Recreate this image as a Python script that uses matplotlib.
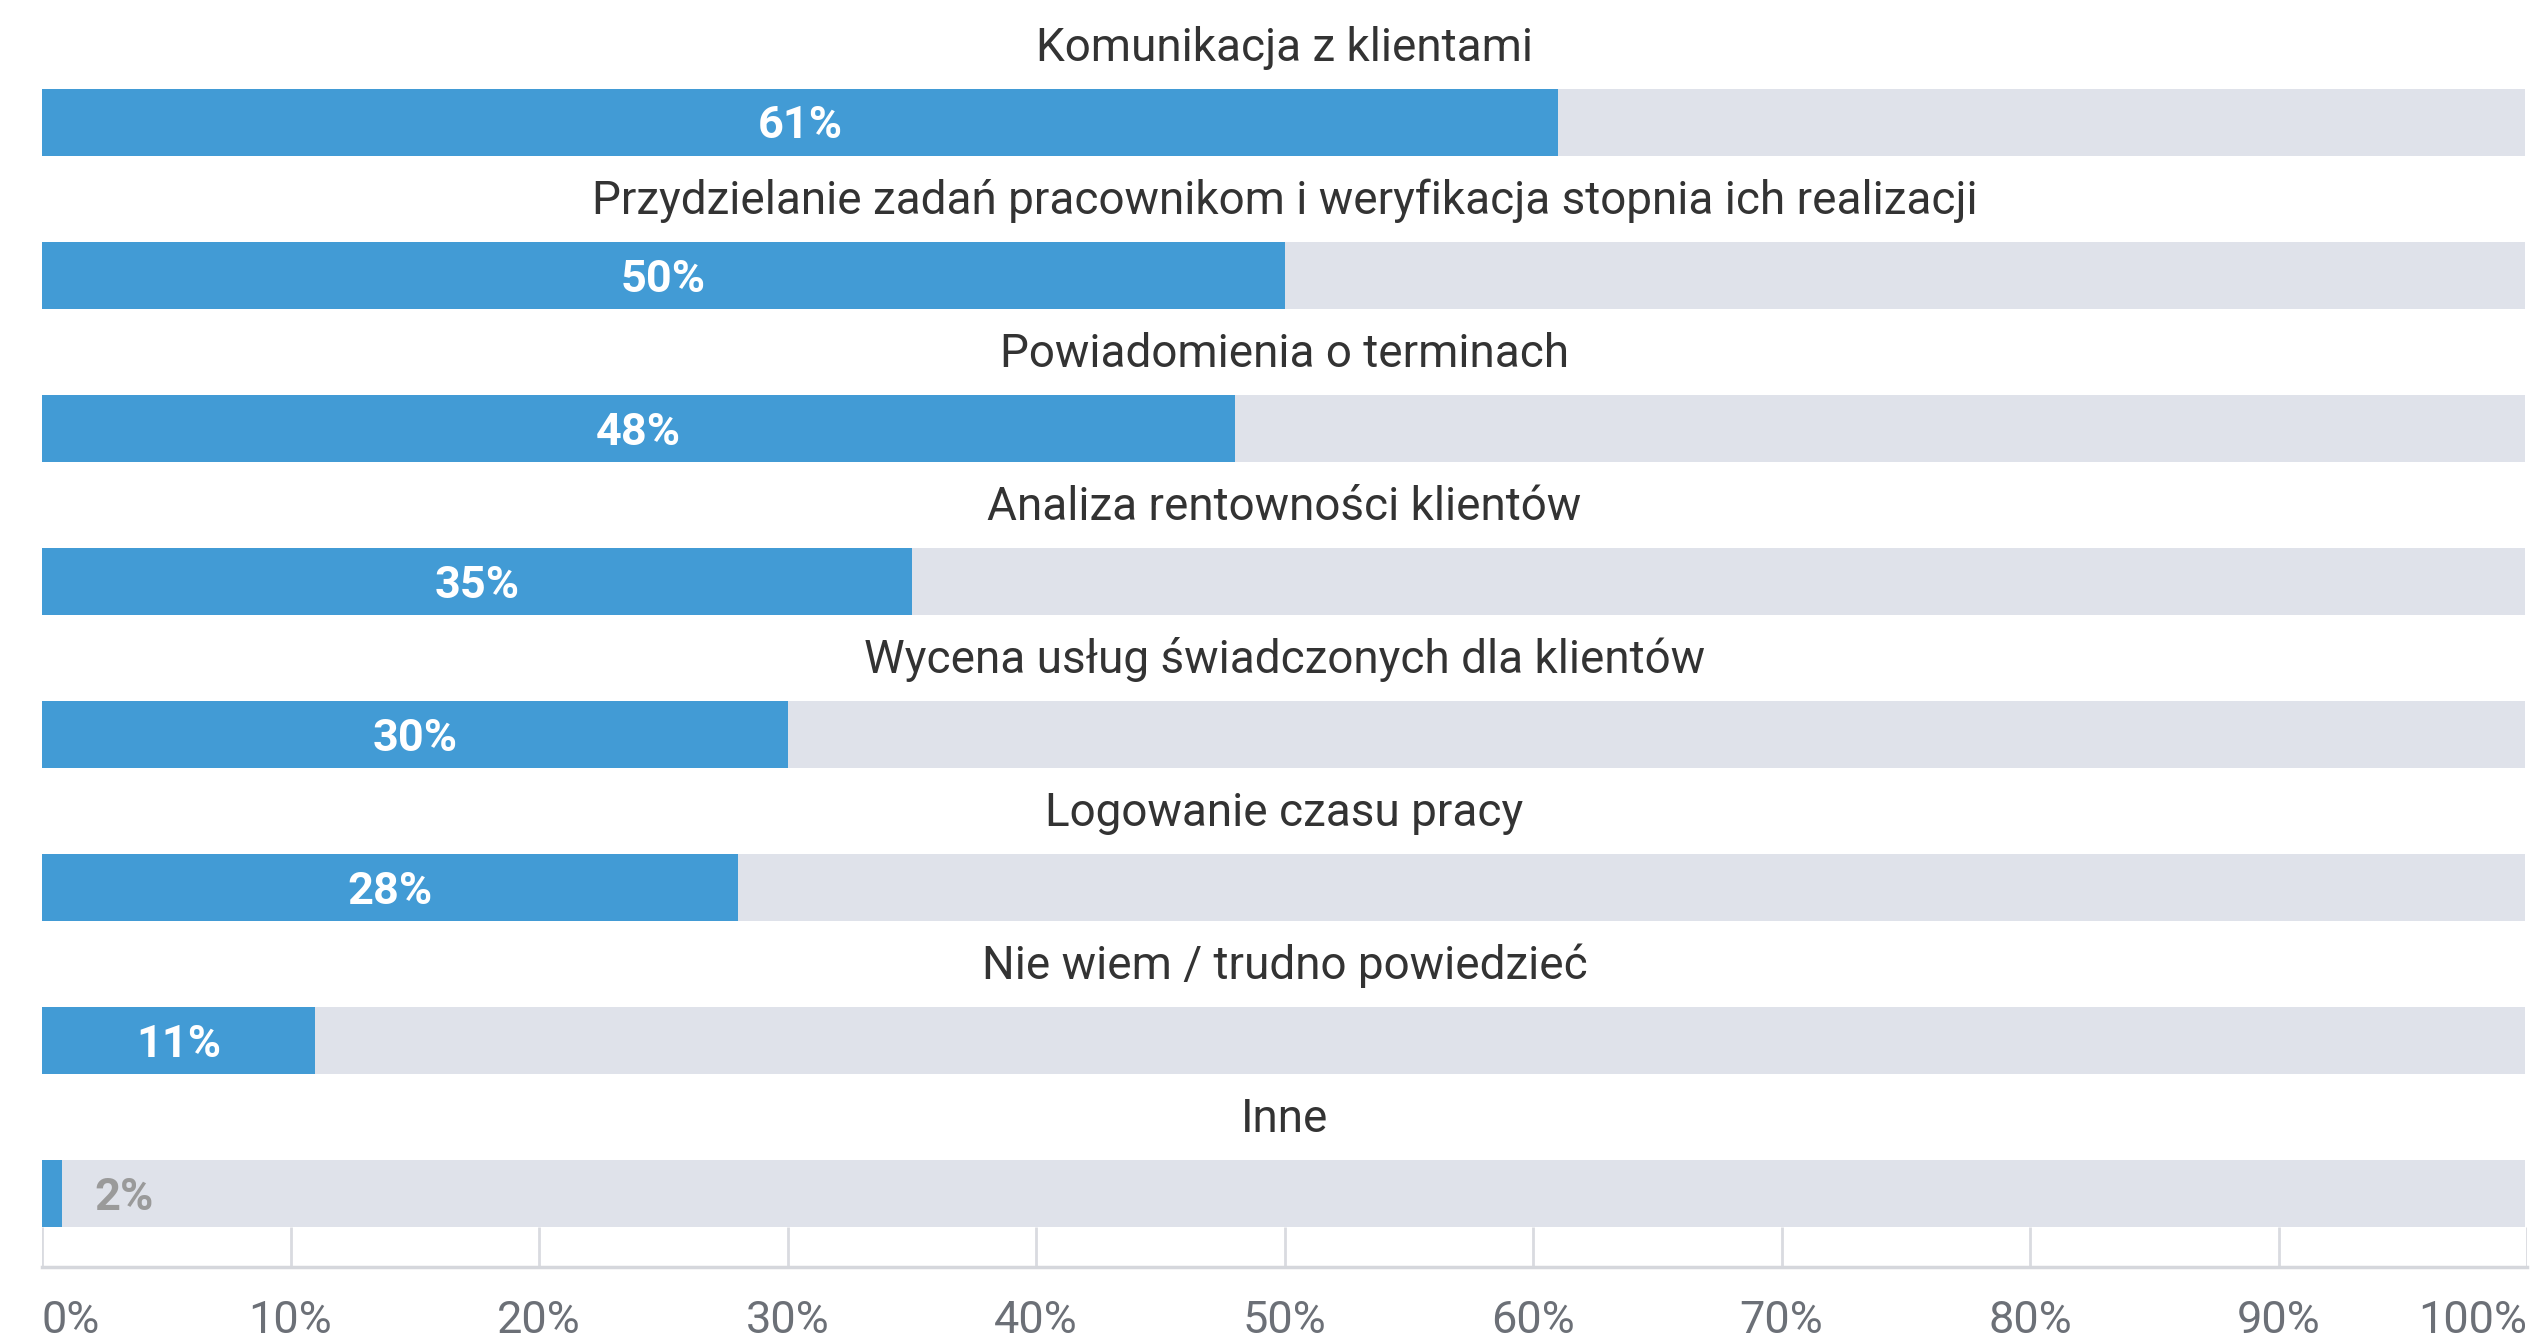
import numpy as np
import matplotlib
matplotlib.use("Agg")
import matplotlib.pyplot as plt

plt.rcParams['font.family'] = ['Roboto', 'DejaVu Sans']

# %% data

categories = [
    "Komunikacja z klientami",
    "Przydzielanie zadań pracownikom i weryfikacja stopnia ich realizacji",
    "Powiadomienia o terminach",
    "Analiza rentowności klientów",
    "Wycena usług świadczonych dla klientów",
    "Logowanie czasu pracy",
    "Nie wiem / trudno powiedzieć",
    "Inne",
]
shares = [61, 50, 48, 35, 30, 28, 11, 2]
# bar lengths as drawn (the "Inne" bar is drawn shorter than its label)
bar_len = [61, 50, 48, 35, 30, 28, 11, 0.8]
xticks = [0, 10, 20, 30, 40, 50, 60, 70, 80, 90, 100]
xtick_labels = [f"{t}%" for t in xticks]

blue = "#429bd5"
bg = "#dfe2ea"
grid_c = "#d9dbe0"

# %% plot

fig = plt.figure(figsize=(25.3, 13.38), dpi=100)
ax = fig.add_axes([42 / 2530, 1 - 1267 / 1338, 2485 / 2530, 1267 / 1338])

y = np.arange(len(categories))
bar_h = 0.435

ax.set_xlim(0, 100)
ax.set_ylim(7.48, -0.80)

# gridlines only show below the last bar
ax.vlines(xticks, 7 + bar_h / 2, 7.48, color=grid_c, lw=2, zorder=0)

ax.barh(y, [99.9] * len(y), height=bar_h, color=bg, zorder=1)
ax.barh(y, bar_len, height=bar_h, color=blue, zorder=2)

for i, (cat, s, b) in enumerate(zip(categories, shares, bar_len)):
    ax.text(50, i - 0.40, cat, ha='center', va='baseline', fontsize=33, color="#333333")
    if b > 5:
        ax.text(b / 2, i + 0.105, f"{s}%", ha='center', va='baseline', fontsize=32.5,
                fontweight='bold', color="white", zorder=3)
    else:
        ax.text(b + 1.3, i + 0.105, f"{s}%", ha='left', va='baseline', fontsize=32.5,
                fontweight='bold', color="#9a9a9a", zorder=3)

for sp in ['top', 'right', 'left']:
    ax.spines[sp].set_visible(False)
ax.spines['bottom'].set_color("#d5d7dc")
ax.spines['bottom'].set_linewidth(2.5)

ax.set_yticks([])
ax.set_xticks(xticks)
ax.set_xticklabels(xtick_labels, fontsize=32.5, color="#6c7077")
ax.tick_params(axis='x', length=0, pad=24)
lbls = ax.get_xticklabels()
lbls[0].set_ha('left')
lbls[0].set_x(-0.25)
lbls[-1].set_ha('right')

fig.savefig("out.png", dpi=100, facecolor="white")
